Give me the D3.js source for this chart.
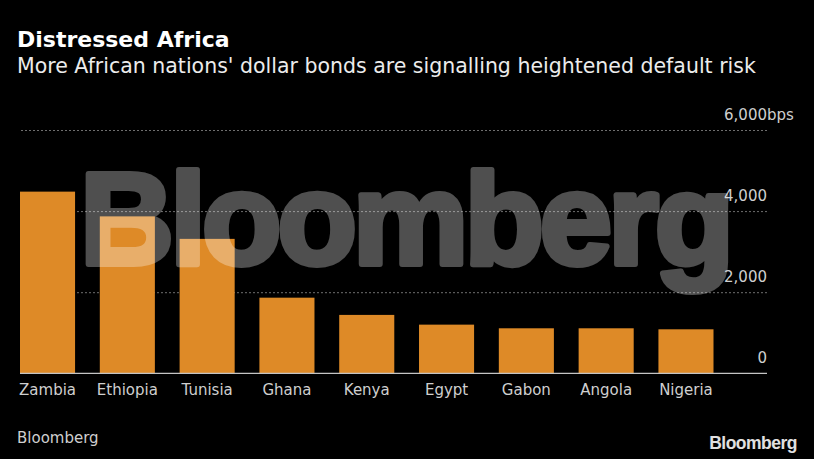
<!DOCTYPE html>
<html lang="en">
<head>
    <meta charset="UTF-8">
    <title>Distressed Africa</title>
    <script src="https://d3js.org/d3.v7.min.js"></script>
    <style>
        html, body {
            margin: 0;
            background: #000;
        }
        svg {
            display: block;
            font-family: "DejaVu Sans", sans-serif;
        }
    </style>
</head>
<body>
    <main></main>
<script>
    // spread over treasuries, bps
    var countries = ['Zambia', 'Ethiopia', 'Tunisia', 'Ghana', 'Kenya', 'Egypt', 'Gabon', 'Angola', 'Nigeria'];
    var spreads = [4480, 3870, 3315, 1865, 1440, 1200, 1110, 1110, 1085];
    var yTicks = [0, 2000, 4000, 6000];

    var w = 814, h = 459;
    // note: "top" is taken by window.top, so keep these in m
    var m = {left: 20, right: 767, top: 130, bottom: 373.3};

    var svg = d3.select('main')
                .append('svg')
                .attr('width', w)
                .attr('height', h)
                .style('background', '#000');

    var xScale = d3.scaleBand()
                    .domain(countries)
                    .range([m.left, 713.5])
                    .paddingInner(0.31)
                    .paddingOuter(0);
    var yScale = d3.scaleLinear()
                    .domain([0, 6000])
                    .range([m.bottom, m.top]);

    // title + subtitle
    svg.append('text')
        .attr('x', 17)
        .attr('y', 46.5)
        .attr('fill', '#fff')
        .attr('font-size', '22px')
        .attr('font-weight', 'bold')
        .text('Distressed Africa');
    svg.append('text')
        .attr('x', 17)
        .attr('y', 73.3)
        .attr('fill', '#ececec')
        .attr('font-size', '20.5px')
        .text("More African nations' dollar bonds are signalling heightened default risk");

    // grid + labels, axis sits on the right edge, lines run left
    var yAxis = d3.axisLeft(yScale)
                    .tickValues(yTicks)
                    .tickSize(m.right - m.left)
                    .tickFormat(d3.format(','));
    var gy = svg.append('g')
        .attr('id', 'y-axis')
        .attr('transform', 'translate(' + m.right + ',0)')
        .call(yAxis);
    gy.select('.domain').remove();
    gy.selectAll('.tick line')
        .attr('stroke', '#6e6e6e')
        .attr('stroke-dasharray', '2,2')
        .attr('stroke-opacity', function(d){ return d === 0 ? 0 : 1 });
    gy.selectAll('.tick text')
        .attr('x', 0)
        .attr('dy', -11)
        .attr('fill', '#cfcfcf')
        .attr('font-size', '15px')
        .attr('font-family', '"DejaVu Sans", sans-serif');
    gy.selectAll('.tick')
        .filter(function(d){ return d === 6000 })
        .append('text')
        .attr('x', 0)
        .attr('dy', -11)
        .attr('fill', '#cfcfcf')
        .attr('font-size', '15px')
        .attr('font-family', '"DejaVu Sans", sans-serif')
        .attr('text-anchor', 'start')
        .text('bps');

    // bars
    svg.append('g').selectAll('rect')
        .data(spreads)
        .enter()
        .append('rect')
        .attr('x', function(d, i){ return xScale(countries[i]) })
        .attr('y', function(d){ return yScale(d) })
        .attr('width', xScale.bandwidth())
        .attr('height', function(d){ return yScale(0) - yScale(d) })
        .attr('fill', '#de8a27');

    // baseline
    svg.append('line')
        .attr('x1', m.left)
        .attr('x2', m.right)
        .attr('y1', yScale(0))
        .attr('y2', yScale(0))
        .attr('stroke', '#c4c4c4')
        .attr('stroke-width', 1.2);

    // category labels
    var xAxis = d3.axisBottom(xScale).tickSize(0).tickPadding(0);
    var gx = svg.append('g')
        .attr('id', 'x-axis')
        .attr('transform', 'translate(0,' + yScale(0) + ')')
        .call(xAxis);
    gx.select('.domain').remove();
    gx.selectAll('.tick text')
        .attr('y', 22)
        .attr('dy', 0)
        .attr('fill', '#cfcfcf')
        .attr('font-size', '15px')
        .attr('font-family', '"DejaVu Sans", sans-serif');

    // watermark
    svg.append('g')
        .attr('opacity', 0.31)
        .append('text')
        .attr('x', 80)
        .attr('y', 264)
        .attr('fill', '#fff')
        .attr('stroke', '#fff')
        .attr('stroke-width', 6)
        .attr('stroke-linejoin', 'round')
        .attr('font-family', '"Liberation Sans", Arial, sans-serif')
        .attr('font-weight', 'bold')
        .attr('font-size', '130px')
        .attr('letter-spacing', '-4px')
        .text('Bloomberg');

    // footer
    svg.append('text')
        .attr('x', 17)
        .attr('y', 443.3)
        .attr('fill', '#cfcfcf')
        .attr('font-size', '15px')
        .text('Bloomberg');
    svg.append('text')
        .attr('x', 797)
        .attr('y', 449.3)
        .attr('text-anchor', 'end')
        .attr('fill', '#e0e0e0')
        .attr('font-family', '"Liberation Sans", Arial, sans-serif')
        .attr('font-weight', 'bold')
        .attr('font-size', '17.5px')
        .attr('letter-spacing', '-0.5px')
        .text('Bloomberg');
</script>
</body>
</html>
